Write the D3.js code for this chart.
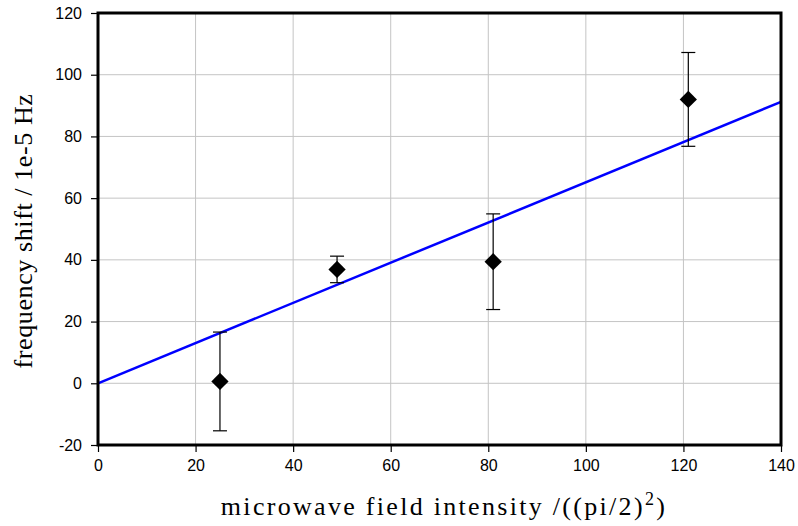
<!DOCTYPE html>
<html>
<head>
<meta charset="utf-8">
<script src="https://cdn.jsdelivr.net/npm/d3@7"></script>
<style>
  body { margin: 0; background: #fff; }
  svg { display: block; }
  .tick text { font-family: "Liberation Sans", Arial, sans-serif; font-size: 16px; fill: #000; }
  .label { font-family: "Liberation Serif", "Times New Roman", serif; font-size: 26px; fill: #000; }
</style>
</head>
<body>
<svg id="chart" width="798" height="526"></svg>
<script>
// measured points
const xs = [25, 49, 81, 121];
const ys = [0.6, 36.9, 39.4, 92.0];
const errs = [16, 4.3, 15.5, 15.2];
const fitX = [0, 140];
const fitY = [0, 91.2];
const xTicks = [0, 20, 40, 60, 80, 100, 120, 140];
const yTicks = [-20, 0, 20, 40, 60, 80, 100, 120];

const svg = d3.select("#chart");
const m = { left: 98, right: 17, top: 13, bottom: 81 };
const w = 798 - m.left - m.right;
const h = 526 - m.top - m.bottom;

const x = d3.scaleLinear().domain([0, 140]).range([0, w]);
const y = d3.scaleLinear().domain([-20, 120]).range([h, 0]);

const g = svg.append("g").attr("transform", `translate(${m.left},${m.top})`);

// grid
g.selectAll("line.vgrid").data(xTicks.slice(1, -1)).enter().append("line")
  .attr("x1", d => x(d)).attr("x2", d => x(d)).attr("y1", 0).attr("y2", h)
  .attr("stroke", "#c4c4c4").attr("stroke-width", 1);
g.selectAll("line.hgrid").data(yTicks.slice(1, -1)).enter().append("line")
  .attr("y1", d => y(d)).attr("y2", d => y(d)).attr("x1", 0).attr("x2", w)
  .attr("stroke", "#c4c4c4").attr("stroke-width", 1);

// axes
const xAxis = g.append("g").attr("transform", `translate(0,${h})`)
  .call(d3.axisBottom(x).tickValues(xTicks).tickSize(7).tickPadding(8).tickFormat(d => String(d)));
const yAxis = g.append("g")
  .call(d3.axisLeft(y).tickValues(yTicks).tickSize(7).tickPadding(9).tickFormat(d => String(d)));
[xAxis, yAxis].forEach(a => {
  a.select(".domain").remove();
  a.selectAll(".tick line").attr("stroke", "#000").attr("stroke-width", 1.2);
});

// fit line
g.append("line")
  .attr("x1", x(fitX[0])).attr("y1", y(fitY[0]))
  .attr("x2", x(fitX[1])).attr("y2", y(fitY[1]))
  .attr("stroke", "#0000ff").attr("stroke-width", 2.5);

// error bars
const pts = xs.map((v, i) => ({ x: v, y: ys[i], e: errs[i] }));
const eb = g.selectAll("g.err").data(pts).enter().append("g").attr("class", "err")
  .attr("stroke", "#000").attr("stroke-width", 1.2);
eb.append("line").attr("x1", d => x(d.x)).attr("x2", d => x(d.x))
  .attr("y1", d => y(d.y - d.e)).attr("y2", d => y(d.y + d.e));
eb.append("line").attr("x1", d => x(d.x) - 7).attr("x2", d => x(d.x) + 7)
  .attr("y1", d => y(d.y - d.e)).attr("y2", d => y(d.y - d.e));
eb.append("line").attr("x1", d => x(d.x) - 7).attr("x2", d => x(d.x) + 7)
  .attr("y1", d => y(d.y + d.e)).attr("y2", d => y(d.y + d.e));

// diamonds
g.selectAll("path.pt").data(pts).enter().append("path")
  .attr("d", d3.symbol(d3.symbolDiamond2, 190))
  .attr("transform", d => `translate(${x(d.x)},${y(d.y)})`)
  .attr("fill", "#000");

// frame
g.append("rect").attr("width", w).attr("height", h)
  .attr("fill", "none").attr("stroke", "#000").attr("stroke-width", 3);

// labels
const xl = svg.append("text").attr("class", "label")
  .attr("x", 444).attr("y", 515).attr("text-anchor", "middle")
  .style("letter-spacing", "2.3px");
xl.append("tspan").text("microwave field intensity /((pi/2)");
xl.append("tspan").attr("dy", -10).attr("font-size", 18).text("2");
xl.append("tspan").attr("dy", 10).text(")");

svg.append("text").attr("class", "label")
  .attr("transform", `translate(32,231) rotate(-90)`)
  .attr("text-anchor", "middle")
  .style("letter-spacing", "0.6px")
  .text("frequency shift / 1e-5 Hz");
</script>
</body>
</html>
